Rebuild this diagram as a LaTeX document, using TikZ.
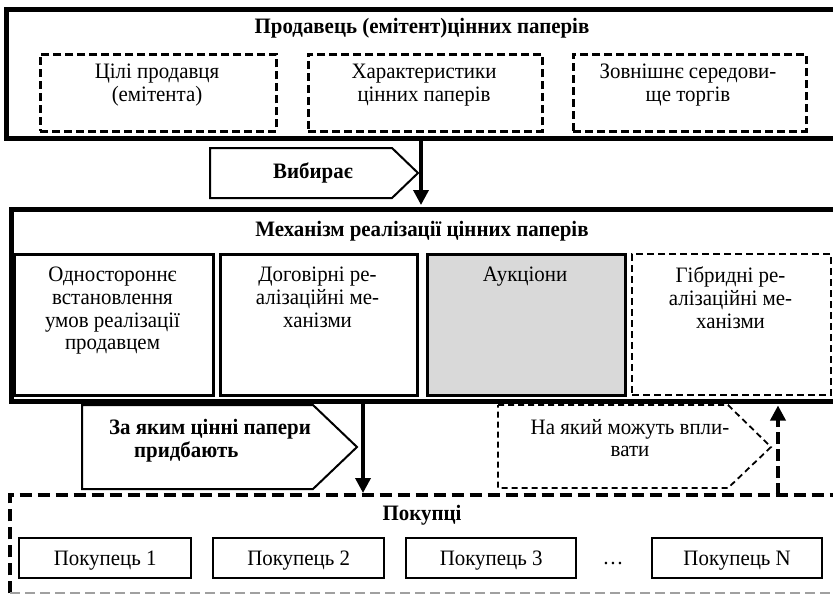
\documentclass[tikz,border=0pt]{standalone}
\usepackage{fontspec}
\setmainfont[FakeStretch=0.95]{Liberation Serif}
\usetikzlibrary{arrows.meta}
\definecolor{boxgray}{RGB}{217,217,217}
\definecolor{linegray}{RGB}{160,160,160}
\begin{document}
\begin{tikzpicture}[x=1pt,y=-1pt,
  frame/.style={draw, line width=4.5pt, inner sep=0pt, anchor=north west},
  dbox/.style={draw, line width=2.5pt, dash pattern=on 8pt off 4pt, inner sep=0pt, anchor=north west},
  sbox/.style={draw, line width=2.5pt, inner sep=0pt, anchor=north west},
  txt/.style={font=\fontsize{22}{22.7}\selectfont, align=center, inner sep=0pt},
  btxt/.style={font=\fontsize{22}{22.7}\selectfont\bfseries, align=center, inner sep=0pt},
  bltxt/.style={font=\fontsize{22}{22.7}\selectfont, inner sep=0pt, anchor=base},
  pent/.style={draw, line width=2pt, line join=miter},
  dpent/.style={draw, line width=1.8pt, dash pattern=on 6pt off 4pt},
  varrow/.style={line width=3.5pt, -{Triangle[width=15pt,length=15pt]}, shorten >=2pt},
  bigdash/.style={line width=4.5pt, dash pattern=on 12pt off 6pt},
  graydash/.style={line width=2pt, linegray, dash pattern=on 10pt off 5pt}
]
\useasboundingbox (0,0) rectangle (833,595);
\clip (0,0) rectangle (833,595);

% ---- Seller frame
\node[frame, minimum width=841pt, minimum height=129pt] (f1) at (4,7) {};
\node[btxt] (t1) at (422,28) {Продавець (емітент)цінних паперів};
\node[dbox, minimum width=236pt, minimum height=77pt] (s1) at (39,53) {};
\node[dbox, minimum width=234pt, minimum height=77pt] (s2) at (307,53) {};
\node[dbox, minimum width=233pt, minimum height=77pt] (s3) at (572,53) {};
\node[txt] (s1t) at (157,85) {Цілі продавця\\(емітента)};
\node[txt] (s2t) at (424,85) {Характеристики\\цінних паперів};
\node[txt] (s3t) at (688,85) {Зовнішнє середови-\\ще торгів};

% ---- Mechanism frame
\node[frame, minimum width=836pt, minimum height=192pt] (f2) at (9,207) {};
\node[btxt] (t2) at (422,231) {Механізм реалізації цінних паперів};
\node[sbox, minimum width=199pt, minimum height=141pt] (mA) at (13,253) {};
\node[sbox, minimum width=197pt, minimum height=141pt] (mB) at (219,253) {};
\node[sbox, fill=boxgray, minimum width=198pt, minimum height=141pt] (mC) at (426,253) {};
\node[dbox, line width=2.2pt, dash pattern=on 7pt off 4pt, minimum width=199pt, minimum height=141pt] (mD) at (631,253) {};
\node[txt, anchor=north] (mAt) at (112.5,267) {Одностороннє\\встановлення\\умов реалізації\\продавцем};
\node[txt, anchor=north] (mBt) at (317.5,267) {Договірні ре-\\алізаційні ме-\\ханізми};
\node[txt, anchor=north] (mCt) at (525,267) {Аукціони};
\node[txt, anchor=north] (mDt) at (730.5,267) {Гібридні ре-\\алізаційні ме-\\ханізми};

% ---- Buyers frame
\node[inner sep=0pt, minimum width=835pt, minimum height=98pt, anchor=north west] (f3) at (10,495) {};
\draw[bigdash] (f3.south west) -- (f3.north west) -- (f3.north east);
\draw[graydash] (f3.south west) -- (f3.south east);
\node[btxt] (t3) at (422,515) {Покупці};
\node[sbox, line width=2.3pt, minimum width=172pt, minimum height=40pt] (b1) at (18,537) {};
\node[sbox, line width=2.3pt, minimum width=171pt, minimum height=40pt] (b2) at (212,537) {};
\node[sbox, line width=2.3pt, minimum width=170pt, minimum height=40pt] (b3) at (405,537) {};
\node[sbox, line width=2.3pt, minimum width=170pt, minimum height=40pt] (bN) at (651,537) {};
\node[bltxt] (b1t) at ([yshift=-7pt]b1.center) {Покупець 1};
\node[bltxt] (b2t) at ([yshift=-7pt]b2.center) {Покупець 2};
\node[bltxt] (b3t) at ([yshift=-7pt]b3.center) {Покупець 3};
\node[bltxt] (bNt) at ([yshift=-7pt]bN.center) {Покупець N};
\node[bltxt] (dots) at (613,564) {\ldots};

% ---- Pentagon labels
\draw[pent] (210,148) -- (392,148) -- (418,173) -- (392,198) -- (210,198) -- cycle;
\node[btxt] (p1) at (313,173) {Вибирає};
\draw[pent] (82,405) -- (313,405) -- (357,447) -- (313,489) -- (82,489) -- cycle;
\node[btxt, align=left] (p2) at (210,441) {За яким цінні папери\\\hspace*{25pt}придбають};
\draw[dpent] (498,405) -- (728,405) -- (771,447) -- (728,488) -- (498,488) -- cycle;
\node[txt] (p3) at (630,438) {На який можуть впли-\\вати};

% ---- Connectors
\coordinate (x1) at (421,0);
\coordinate (x2) at (363,0);
\coordinate (x3) at (778,0);
\draw[varrow] (f1.south -| x1) -- (f2.north -| x1);
\draw[varrow] (f2.south -| x2) -- (f3.north -| x2);
\draw[varrow, dash pattern=on 12pt off 5pt] (f3.north -| x3) -- (f2.south -| x3);
\end{tikzpicture}
\end{document}
